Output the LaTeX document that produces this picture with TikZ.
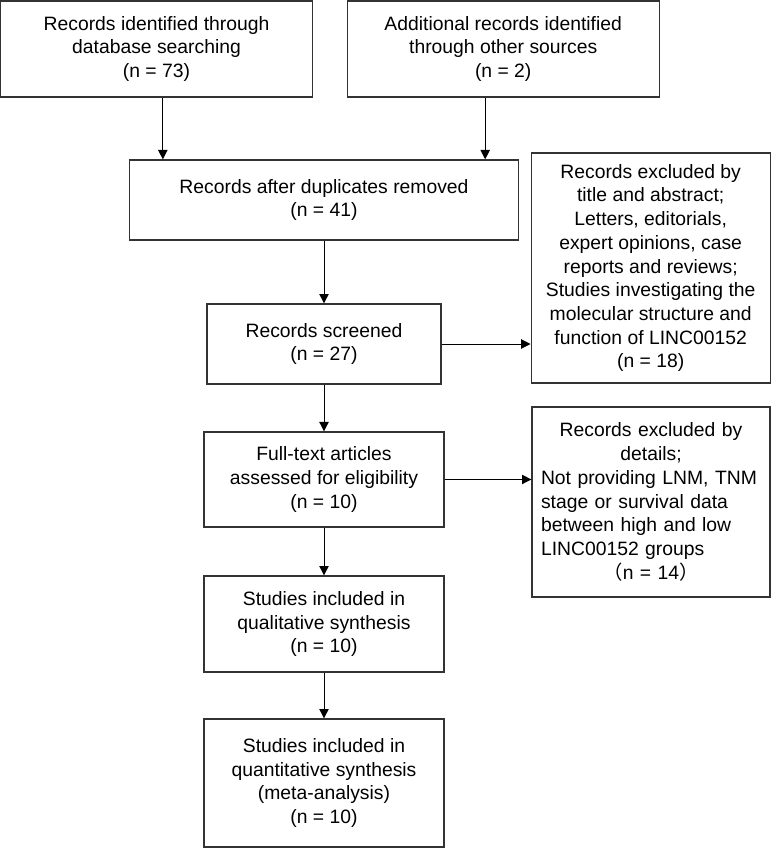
\documentclass[tikz,border=0pt]{standalone}
\usepackage{fontspec}
\setmainfont{Liberation Sans}
\newfontfamily\cjk{Noto Sans CJK SC}
\usepackage{tikz}
\usetikzlibrary{positioning,arrows.meta}
\setlength{\parindent}{0pt}

\begin{document}
\begin{tikzpicture}[node distance=108pt,on grid,font=\fontsize{14.5}{17.8}\selectfont]
    \tikzset{block/.style={draw=black!80,line width=1pt,rectangle,inner sep=4pt},
             flow/.style={-{Triangle[length=7pt,width=7pt]},line width=0.75pt}}
    \useasboundingbox (0,0) rectangle (580.5pt,-636pt);
    % identification
    \node[block,align=center,minimum width=234pt,minimum height=72pt] (db) at (117.4pt,-36.75pt)
        {Records identified through\\database searching\\(n = 73)};
    \node[block,align=center,minimum width=234pt,minimum height=72pt] (other) [right = 260pt of db]
        {Additional records identified\\through other sources\\(n = 2)};
    % main column
    \node[block,align=center,minimum width=291.75pt,minimum height=60pt] (dup) at (243pt,-150pt)
        {Records after duplicates removed\\(n = 41)};
    \node[block,align=center,minimum width=175.5pt,minimum height=60pt] (screen) [below = of dup]
        {Records screened\\(n = 27)};
    \node[block,align=center,minimum width=180pt,minimum height=71.25pt] (full) [below = 101.6pt of screen]
        {Full-text articles\\assessed for eligibility\\(n = 10)};
    \node[block,align=center,minimum width=180pt,minimum height=72pt] (qual) [below = 108.4pt of full]
        {Studies included in\\qualitative synthesis\\(n = 10)};
    \node[block,align=center,minimum width=180pt,minimum height=96pt] (quant) [below = 119.25pt of qual]
        {Studies included in\\quantitative synthesis\\(meta-analysis)\\(n = 10)};
    % exclusions
    \node[block,align=center,minimum width=179.25pt,minimum height=172.5pt] (excA) at (488pt,-201pt)
        {Records excluded by\\title and abstract;\\Letters, editorials,\\expert opinions, case\\reports and reviews;\\Studies investigating the\\molecular structure and\\function of LINC00152\\(n = 18)};
    \node[block,text width=165pt,inner sep=6.75pt,minimum height=142.5pt] (excB) at (488.25pt,-376.5pt)
        {\centering Records excluded by\\details;\par
         \raggedright Not providing LNM, TNM\\stage or survival data\\between high and low\\LINC00152 groups\par
         \centering{\cjk （}n = 14{\cjk ）}\par};
    \coordinate (inL) at ([xshift=25.5pt]dup.north west);
    \coordinate (inR) at ([xshift=-25.5pt]dup.north east);
    \path[flow]
    (db.south -| inL) edge (inL)
    (other.south -| inR) edge (inR)
    (dup) edge (screen)
    (screen) edge (full)
    (full) edge (qual)
    (qual) edge (quant)
    (screen.east) edge (screen.east -| excA.west)
    (full.east) edge (full.east -| excB.west)
    ;
\end{tikzpicture}
\end{document}
